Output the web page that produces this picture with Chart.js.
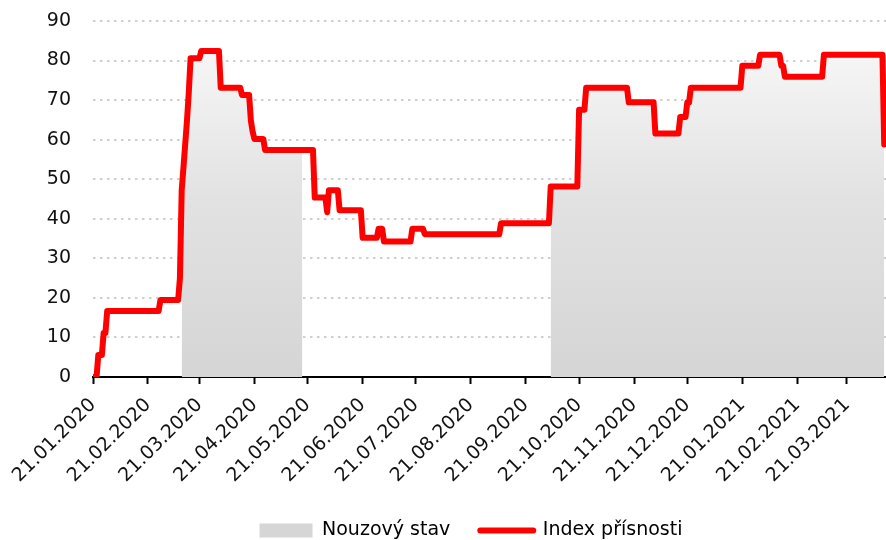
<!DOCTYPE html>
<html lang="cs">
<head>
<meta charset="utf-8">
<title>Index přísnosti</title>
<script src="https://cdn.jsdelivr.net/npm/chart.js@4.4.1/dist/chart.umd.min.js"></script>
<style>
  html, body { margin: 0; padding: 0; background: #fff; }
  #chart { display: block; }
</style>
</head>
<body>
<canvas id="chart" width="886" height="540"></canvas>
<script>
"use strict";

// dny, kdy se index změnil, a jeho nová hodnota
const changeDates = [
  "21.01.2020", "24.01.2020", "27.01.2020", "29.01.2020", "28.02.2020",
  "10.03.2020", "11.03.2020", "12.03.2020", "13.03.2020", "14.03.2020",
  "15.03.2020", "16.03.2020", "22.03.2020", "02.04.2020", "14.04.2020",
  "19.04.2020", "20.04.2020", "21.04.2020", "27.04.2020", "25.05.2020",
  "01.06.2020", "02.06.2020", "08.06.2020", "21.06.2020", "30.06.2020",
  "03.07.2020", "19.07.2020", "26.07.2020", "07.09.2020", "05.10.2020",
  "21.10.2020", "25.10.2020", "18.11.2020", "03.12.2020", "17.12.2020",
  "21.12.2020", "23.12.2020", "21.01.2021", "31.01.2021", "12.02.2021",
  "14.02.2021", "08.03.2021", "11.04.2021"
];
const indexValues = [
  0, 5.56, 11.11, 16.67, 19.44,
  25.0, 47.22, 53.0, 59.0, 65.0,
  72.0, 80.56, 82.41, 73.15, 71.3,
  64.8, 62.0, 60.19, 57.41, 45.37,
  41.67, 47.22, 42.13, 35.19, 37.5,
  34.26, 37.5, 36.11, 38.89, 48.15,
  67.59, 73.15, 69.44, 61.57, 65.74,
  69.44, 73.15, 78.7, 81.48, 78.7,
  75.93, 81.48, 58.8
];

// nouzový stav
const emergencyStart = ["11.03.2020", "05.10.2020"];
const emergencyEnd = ["18.05.2020", "11.04.2021"];

const tickLabels = [
  "21.01.2020", "21.02.2020", "21.03.2020", "21.04.2020", "21.05.2020",
  "21.06.2020", "21.07.2020", "21.08.2020", "21.09.2020", "21.10.2020",
  "21.11.2020", "21.12.2020", "21.01.2021", "21.02.2021", "21.03.2021"
];
const axisStart = "21.01.2020";
const axisEnd = "12.04.2021";

const FONT = "'DejaVu Sans', sans-serif";

function dayNo(s) {
  const p = s.split(".").map(Number);
  const a = axisStart.split(".").map(Number);
  return Math.round((Date.UTC(p[2], p[1] - 1, p[0]) - Date.UTC(a[2], a[1] - 1, a[0])) / 86400000);
}

// denni rada: hodnota plati az do dalsi zmeny
const indexPoints = [];
changeDates.forEach((d, i) => {
  const day = dayNo(d);
  if (i > 0 && day - 1 > indexPoints[indexPoints.length - 1].x) {
    indexPoints.push({ x: day - 1, y: indexValues[i - 1] });
  }
  indexPoints.push({ x: day, y: indexValues[i] });
});

function valueOn(day) {
  let v = indexValues[0];
  changeDates.forEach((d, i) => {
    if (dayNo(d) <= day) v = indexValues[i];
  });
  return v;
}

const emergencyPoints = [];
emergencyStart.forEach((s, i) => {
  const a = dayNo(s);
  const b = dayNo(emergencyEnd[i]);
  if (i > 0) emergencyPoints.push({ x: a - 0.5, y: null });
  emergencyPoints.push({ x: a, y: valueOn(a) });
  indexPoints.forEach((p) => {
    if (p.x > a && p.x < b) emergencyPoints.push(p);
  });
  emergencyPoints.push({ x: b, y: valueOn(b) });
});

// legenda je v originale posunuta trochu doprava
const legendShift = {
  id: "legendShift",
  afterLayout(chart) {
    chart.legend.left += 8;
    chart.legend.right += 8;
  },
};

const ctx = document.getElementById("chart");

new Chart(ctx, {
  type: "line",
  data: {
    datasets: [
      {
        label: "Nouzový stav",
        data: emergencyPoints,
        order: 2,
        borderWidth: 0,
        pointRadius: 0,
        fill: "origin",
        spanGaps: false,
        backgroundColor: (c) => {
          const area = c.chart.chartArea;
          if (!area) return "#dddddd";
          const g = c.chart.ctx.createLinearGradient(0, area.top, 0, area.bottom);
          g.addColorStop(0, "#fafafa");
          g.addColorStop(0.5, "#e2e2e2");
          g.addColorStop(1, "#d5d5d5");
          return g;
        },
      },
      {
        label: "Index přísnosti",
        data: indexPoints,
        order: 1,
        borderColor: "#ff0000",
        borderWidth: 6,
        borderJoinStyle: "round",
        borderCapStyle: "round",
        pointRadius: 0,
        fill: false,
        tension: 0,
      },
    ],
  },
  options: {
    responsive: false,
    animation: false,
    layout: {
      padding: { top: 21, left: 40, right: 0, bottom: 0 },
    },
    scales: {
      x: {
        type: "linear",
        min: 0,
        max: dayNo(axisEnd),
        afterBuildTicks: (scale) => {
          scale.ticks = tickLabels.map((t) => ({ value: dayNo(t) }));
        },
        afterFit: (scale) => {
          scale.height = 114;
        },
        ticks: {
          autoSkip: false,
          minRotation: 45,
          maxRotation: 45,
          padding: 10,
          color: "#111",
          font: { family: FONT, size: 19 },
          callback: (v, i) => tickLabels[i],
        },
        grid: {
          drawOnChartArea: false,
          drawTicks: true,
          tickLength: 7,
          tickWidth: 2,
          tickColor: "#000",
        },
        border: { color: "#000", width: 2 },
      },
      y: {
        min: 0,
        max: 90,
        afterFit: (scale) => {
          scale.width = 53;
        },
        ticks: {
          stepSize: 10,
          padding: 0,
          color: "#111",
          font: { family: FONT, size: 19 },
        },
        grid: {
          color: "#cfcfcf",
          lineWidth: 2,
          drawTicks: true,
          tickLength: 22,
          tickColor: "rgba(0,0,0,0)",
        },
        border: { display: false, dash: [2.5, 4.5] },
      },
    },
    plugins: {
      tooltip: { enabled: false },
      legend: {
        position: "bottom",
        maxHeight: 49,
        labels: {
          padding: 30,
          boxHeight: 14,
          usePointStyle: true,
          pointStyleWidth: 53,
          color: "#111",
          font: { family: FONT, size: 19 },
          generateLabels: () => [
            {
              text: "Nouzový stav",
              fillStyle: "#d6d6d6",
              strokeStyle: "#d6d6d6",
              lineWidth: 0,
              pointStyle: "rect",
              datasetIndex: 0,
            },
            {
              text: "Index přísnosti",
              fillStyle: "#ff0000",
              strokeStyle: "#ff0000",
              lineWidth: 6,
              lineCap: "round",
              pointStyle: "line",
              datasetIndex: 1,
            },
          ],
        },
      },
    },
  },
  plugins: [legendShift],
});
</script>
</body>
</html>
